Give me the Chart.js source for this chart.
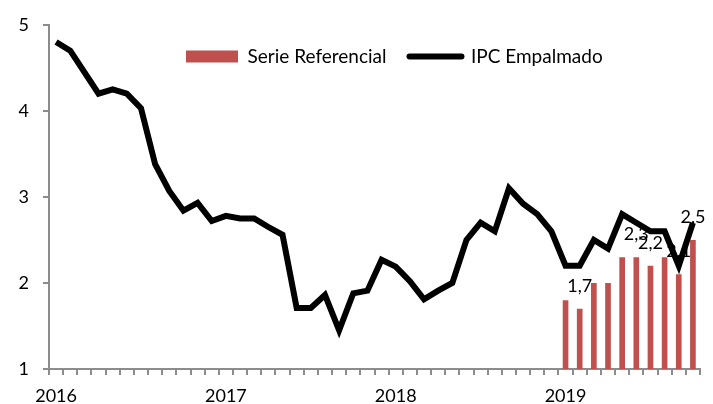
<!DOCTYPE html>
<html>
<head>
<meta charset="utf-8">
<script src="https://cdn.jsdelivr.net/npm/chart.js@4/dist/chart.umd.min.js"></script>
<style>
  html, body { margin: 0; padding: 0; background: #fff; }
</style>
</head>
<body>
<canvas id="ipcChart" width="713" height="404"></canvas>
<script>
// meses (ene 2016 - oct 2019)
const months = [
  "2016-01", "2016-02", "2016-03", "2016-04", "2016-05", "2016-06", "2016-07", "2016-08", "2016-09", "2016-10", "2016-11", "2016-12",
  "2017-01", "2017-02", "2017-03", "2017-04", "2017-05", "2017-06", "2017-07", "2017-08", "2017-09", "2017-10", "2017-11", "2017-12",
  "2018-01", "2018-02", "2018-03", "2018-04", "2018-05", "2018-06", "2018-07", "2018-08", "2018-09", "2018-10", "2018-11", "2018-12",
  "2019-01", "2019-02", "2019-03", "2019-04", "2019-05", "2019-06", "2019-07", "2019-08", "2019-09", "2019-10",
];

const ipcEmpalmado = [
  4.8, 4.7, 4.45, 4.2, 4.25, 4.2, 4.03, 3.38, 3.07, 2.84, 2.93, 2.72,
  2.78, 2.75, 2.75, 2.65, 2.56, 1.71, 1.71, 1.86, 1.45, 1.88, 1.91, 2.27,
  2.19, 2.02, 1.81, 1.91, 2.0, 2.5, 2.7, 2.6, 3.1, 2.92, 2.8, 2.6,
  2.2, 2.2, 2.5, 2.4, 2.8, 2.7, 2.6, 2.6, 2.2, 2.7,
];

const serieReferencial = [
  null, null, null, null, null, null, null, null, null, null, null, null,
  null, null, null, null, null, null, null, null, null, null, null, null,
  null, null, null, null, null, null, null, null, null, null, null, null,
  1.8, 1.7, 2.0, 2.0, 2.3, 2.3, 2.2, 2.3, 2.1, 2.5,
];

// which bars carry a value label (2019 only)
const labelMonths = ["2019-02", "2019-06", "2019-07", "2019-09", "2019-10"];

const yTicks = [1, 2, 3, 4, 5];

Chart.defaults.font.family = "Lato, 'Open Sans', sans-serif";
Chart.defaults.font.size = 18;
Chart.defaults.color = "#000";

// legend sits inside the plot area, so it takes no room in the layout
const legendInside = {
  id: "legendInside",
  beforeUpdate(chart) {
    const legend = chart.legend;
    if (!legend || legend._patched) return;
    const fit = legend.fit;
    legend.fit = function () {
      fit.call(this);
      this.height = 0;
    };
    legend._patched = true;
  },
  afterLayout(chart) {
    const legend = chart.legend;
    legend.left = 163;
    legend.right = 713;
    legend.top = 24;
    legend.bottom = 100;
    legend.height = 76;
  },
};

// value labels on the bars, drawn before the line so it passes over them
const barLabels = {
  id: "barLabels",
  afterDatasetDraw(chart, args) {
    if (args.index !== 0) return;
    const ctx = chart.ctx;
    const meta = chart.getDatasetMeta(0);
    ctx.save();
    ctx.font = "18px Lato, 'Open Sans', sans-serif";
    ctx.fillStyle = "#000";
    ctx.textAlign = "center";
    ctx.textBaseline = "middle";
    labelMonths.forEach((m) => {
      const i = months.indexOf(m);
      const bar = meta.data[i];
      const txt = serieReferencial[i].toFixed(1).replace(".", ",");
      ctx.fillText(txt, bar.x, bar.y - 23);
    });
    ctx.restore();
  },
};

const ctx = document.getElementById("ipcChart").getContext("2d");
new Chart(ctx, {
  type: "bar",
  data: {
    labels: months,
    datasets: [
      {
        type: "bar",
        label: "Serie Referencial",
        data: serieReferencial,
        backgroundColor: "#C0504D",
        barPercentage: 0.4,
        categoryPercentage: 1,
        order: 1,
      },
      {
        type: "line",
        label: "IPC Empalmado",
        data: ipcEmpalmado,
        borderColor: "#000",
        borderWidth: 6,
        pointRadius: 0,
        tension: 0,
        order: 0,
      },
    ],
  },
  options: {
    responsive: false,
    animation: false,
    layout: { padding: { top: 20, right: 13, left: 0, bottom: 0 } },
    plugins: {
      tooltip: { enabled: false },
      legend: {
        position: "top",
        align: "start",
        labels: {
          usePointStyle: true,
          pointStyleWidth: 52,
          boxHeight: 12,
          padding: 23,
          font: { size: 19 },
          generateLabels() {
            return [
              { text: "Serie Referencial", pointStyle: "rect", fillStyle: "#C0504D", strokeStyle: "#C0504D", lineWidth: 0, datasetIndex: 0 },
              { text: "IPC Empalmado", pointStyle: "line", fillStyle: "#000", strokeStyle: "#000", lineWidth: 6, lineCap: "round", datasetIndex: 1 },
            ];
          },
        },
      },
    },
    scales: {
      x: {
        offset: true,
        border: { color: "#8c8c8c", width: 2 },
        grid: { offset: true, drawOnChartArea: false, drawTicks: true, tickLength: 6, color: "#8c8c8c", lineWidth: 2 },
        ticks: {
          autoSkip: false,
          maxRotation: 0,
          padding: 10,
          callback(value) {
            const m = this.getLabelForValue(value);
            return m.endsWith("-01") ? m.slice(0, 4) : "";
          },
        },
        afterFit(scale) { scale.height = 35; },
      },
      y: {
        min: yTicks[0],
        max: yTicks[yTicks.length - 1],
        border: { color: "#8c8c8c", width: 2 },
        grid: { drawOnChartArea: false, drawTicks: true, tickLength: 6, color: "#8c8c8c", lineWidth: 2 },
        afterBuildTicks(scale) {
          scale.ticks = yTicks.map((v) => ({ value: v }));
        },
        ticks: { padding: 14 },
        afterFit(scale) { scale.width = 49; },
      },
    },
  },
  plugins: [legendInside, barLabels],
});
</script>
</body>
</html>
